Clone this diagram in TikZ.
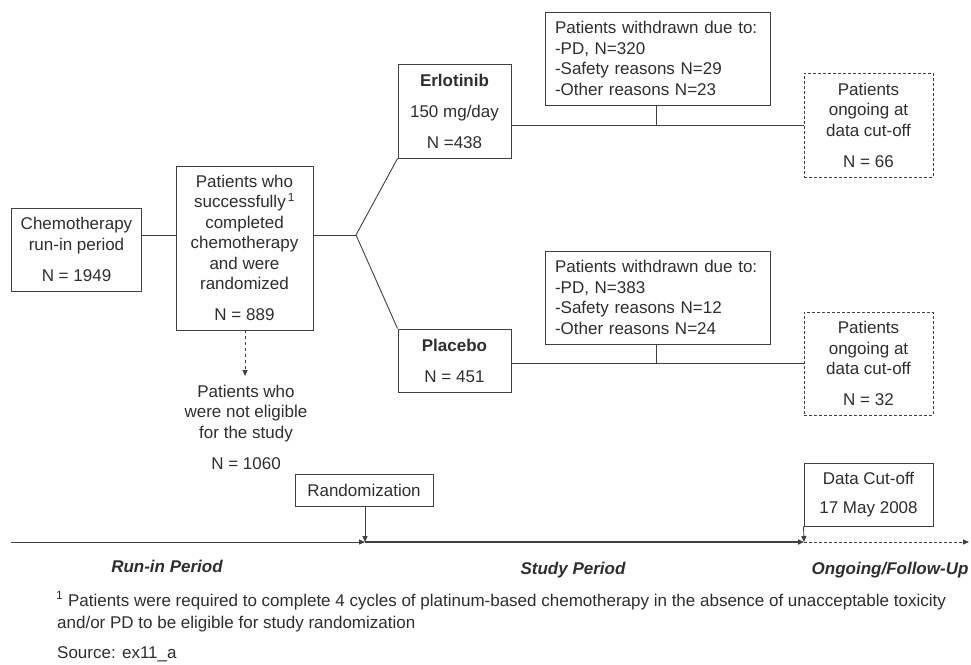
\documentclass[tikz,border=0pt]{standalone}
\usepackage{fontspec}
\setmainfont{Liberation Sans}
\usetikzlibrary{arrows.meta}
\definecolor{linec}{gray}{0.25}
\definecolor{textc}{gray}{0.18}
\newcommand\fsz{\fontsize{17}{20.5}\selectfont}
\tikzset{
  box/.style={draw=linec, line width=0.9pt, align=center, inner sep=2pt, font=\fsz, text=textc},
  dbox/.style={box, dash pattern=on 3pt off 2pt},
  lbox/.style={box, align=left, text width=205pt, inner sep=0pt},
  txt/.style={font=\fsz, text=textc, align=center, inner sep=0pt},
  conn/.style={draw=linec, line width=0.9pt},
  tip/.style={-{Triangle[length=6pt,width=5pt]}},
  period/.style={font=\fsz\bfseries\itshape, text=textc, inner sep=0pt}
}
\begin{document}
\begin{tikzpicture}[x=1pt,y=-1pt]
\useasboundingbox (0,0) rectangle (971,664);
% boxes
\node[box, minimum width=130pt, minimum height=83pt] (chemo) at (76.5,249.5) {Chemotherapy\\run-in period\\[10.5pt]N = 1949};
\node[box, minimum width=137pt, minimum height=164pt] (mid) at (244.5,248) {Patients who\\successfully\textsuperscript{\,1}\\completed\\chemotherapy\\and were\\randomized\\[10.5pt]N = 889};
\node[box, minimum width=113pt, minimum height=94pt] (erl) at (454.5,111) {\textbf{Erlotinib}\\[10.5pt]150 mg/day\\[10.5pt]N =438};
\node[box, minimum width=113pt, minimum height=63pt] (plac) at (454.5,360.5) {\textbf{Placebo}\\[10.5pt]N = 451};
\node[lbox, minimum width=225pt, minimum height=93pt] (wd1) at (657.5,58.5) {Patients withdrawn due to:\\-PD, N=320\\-Safety reasons N=29\\-Other reasons N=23};
\node[lbox, minimum width=225pt, minimum height=93pt] (wd2) at (657.5,297.5) {Patients withdrawn due to:\\-PD, N=383\\-Safety reasons N=12\\-Other reasons N=24};
\node[dbox, minimum width=129pt, minimum height=104pt] (on1) at (868.5,125) {Patients\\ongoing at\\data cut-off\\[10.5pt]N = 66};
\node[dbox, minimum width=129pt, minimum height=103pt] (on2) at (868.5,363.5) {Patients\\ongoing at\\data cut-off\\[10.5pt]N = 32};
\node[txt] (noteli) at (246,427) {Patients who\\were not eligible\\for the study\\[10.5pt]N = 1060};
\node[box, minimum width=138pt, minimum height=32pt] (rand) at (364,490) {Randomization};
\node[box, minimum width=129pt, minimum height=63pt] (cut) at (868.5,494.5) {Data Cut-off\\[8.5pt]17 May 2008};
% connectors
\coordinate (br) at (356,235);
\coordinate (j1) at (656,125);
\coordinate (j2) at (656,363);
\draw[conn] (chemo.east |- br) -- (mid.west |- br);
\draw[conn] (mid.east |- br) -- (br);
\draw[conn] (br) -- (erl.south west);
\draw[conn] (br) -- (plac.north west);
\draw[conn] (erl.east |- j1) -- (on1.west |- j1);
\draw[conn] (j1 |- wd1.south) -- (j1);
\draw[conn] (plac.east |- j2) -- (on2.west |- j2);
\draw[conn] (j2 |- wd2.south) -- (j2);
\coordinate (elig) at (245,376);
\draw[conn, dashed, tip] (mid.south -| elig) -- (elig);
% timeline
\coordinate (ax0) at (11,542);
\coordinate (axR) at (365,542);
\coordinate (axC) at (804,542);
\coordinate (axE) at (969,542);
\draw[conn, tip] (ax0) -- (axR);
\draw[conn, line width=2.4pt, tip] (axR) -- (axC);
\draw[conn, dash pattern=on 3pt off 2pt, tip] (axC) -- (axE);
\draw[conn, tip] (rand.south -| axR) -- (axR);
\draw[conn, tip] (cut.south west) -- (axC);
\node[period] (p1) at (167,566) {Run-in Period};
\node[period] (p2) at (573,570) {Study Period};
\node[period] (p3) at (890,570) {Ongoing/Follow-Up};
% footnote
\node[txt, anchor=base west, align=left] (fn1) at (56,606) {\textsuperscript{1} Patients were required to complete 4 cycles of platinum-based chemotherapy in the absence of unacceptable toxicity};
\node[txt, anchor=base west, align=left] (fn2) at (57,628) {and/or PD to be eligible for study randomization};
\node[txt, anchor=base west, align=left] (src) at (57,658) {Source: ex11\_a};
\end{tikzpicture}
\end{document}
